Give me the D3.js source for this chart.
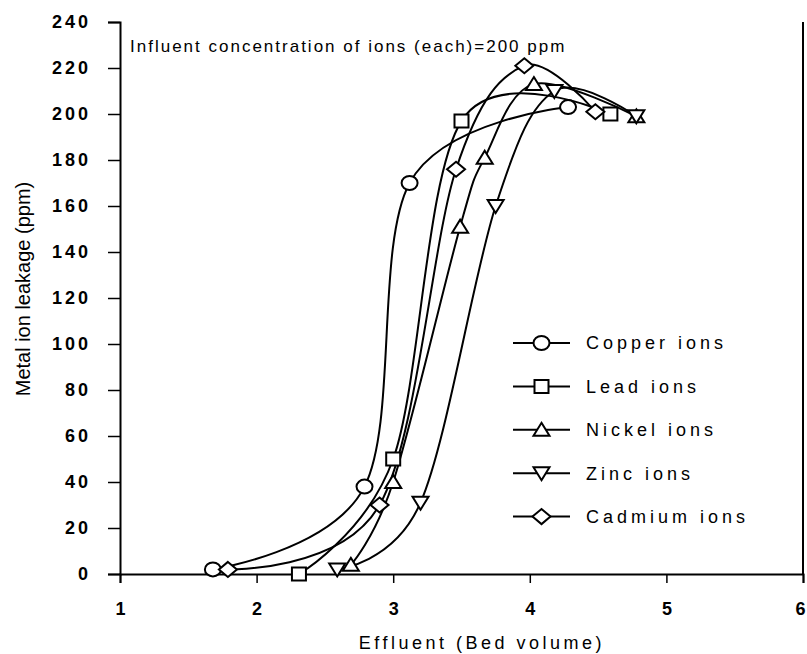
<!DOCTYPE html>
<html>
<head>
<meta charset="utf-8">
<script src="https://cdn.jsdelivr.net/npm/d3@7"></script>
<style>
  body { margin: 0; background: #fff; }
  svg { display: block; font-family: "Liberation Sans", Arial, sans-serif; }
</style>
</head>
<body>
<svg id="chart" width="807" height="654"></svg>
<script>
// data: [bed volume, ppm]
const copper  = [[1.68, 2], [2.79, 38], [3.12, 170], [4.28, 203]];
const lead    = [[2.31, 0], [3.0, 50], [3.5, 197], [4.59, 200]];
const nickel  = [[2.69, 4], [3.0, 40], [3.49, 151], [3.67, 181], [4.03, 213], [4.78, 199]];
const zinc    = [[2.59, 2], [3.2, 31], [3.75, 160], [4.18, 210], [4.78, 199]];
const cadmium = [[1.79, 2], [2.9, 30], [3.46, 176], [3.96, 221], [4.48, 201]];

const seriesNames = ["Copper ions", "Lead ions", "Nickel ions", "Zinc ions", "Cadmium ions"];
const seriesShapes = ["circle", "square", "triUp", "triDown", "diamond"];
const seriesData = [copper, lead, nickel, zinc, cadmium];

const xTicks = [1, 2, 3, 4, 5, 6];
const yTicks = [0, 20, 40, 60, 80, 100, 120, 140, 160, 180, 200, 220, 240];

const svg = d3.select("#chart");
const plotL = 120, plotR = 803, plotT = 22, plotB = 574;

const x = d3.scaleLinear().domain([1, 6]).range([plotL, plotR]);
const y = d3.scaleLinear().domain([0, 240]).range([plotB, plotT]);

// marker outlines, centred on 0,0
function shapePath(s) {
  switch (s) {
    case "circle": return "M-8,0a8,7 0 1,0 16,0a8,7 0 1,0 -16,0Z";
    case "square": return "M-7,-6.5H7V6.5H-7Z";
    case "triUp": return "M0,-7L8,6H-8Z";
    case "triDown": return "M0,7L8,-6H-8Z";
    case "diamond": return "M0,-7.5L9,0L0,7.5L-9,0Z";
  }
}

// axes
const yAxis = d3.axisLeft(y).tickValues(yTicks).tickSize(12).tickFormat(d => d);
const xAxis = d3.axisBottom(x).tickValues(xTicks).tickSize(9).tickFormat(d => d);

const gy = svg.append("g").attr("transform", `translate(${plotL},0)`).call(yAxis);
const gx = svg.append("g").attr("transform", `translate(0,${plotB})`).call(xAxis);

[gx, gy].forEach(g => {
  g.select(".domain").attr("stroke", "#000").attr("stroke-width", 2);
  g.selectAll(".tick line").attr("stroke", "#000").attr("stroke-width", 1.5);
  g.selectAll(".tick text")
    .attr("fill", "#000")
    .attr("font-size", 18)
    .attr("font-weight", "bold")
    .attr("font-family", "'Liberation Sans', Arial, sans-serif");
});
gy.selectAll(".tick text").attr("x", -32).attr("letter-spacing", 3).attr("dx", 3);
gx.selectAll(".tick text").attr("y", 28);
// last label sits on the window edge
gx.selectAll(".tick text").filter(d => d === 6).attr("dx", -3);

// right border
svg.append("line")
  .attr("x1", plotR).attr("x2", plotR)
  .attr("y1", plotT).attr("y2", plotB)
  .attr("stroke", "#000").attr("stroke-width", 2);

// smoothed lines
const line = d3.line()
  .x(d => x(d[0]))
  .y(d => y(d[1]))
  .curve(d3.curveCardinal.tension(0));

svg.append("g")
  .selectAll("path")
  .data(seriesData)
  .join("path")
  .attr("d", line)
  .attr("fill", "none")
  .attr("stroke", "#000")
  .attr("stroke-width", 2);

// markers
seriesData.forEach((pts, i) => {
  svg.append("g")
    .selectAll("path")
    .data(pts)
    .join("path")
    .attr("transform", d => `translate(${x(d[0])},${y(d[1])})`)
    .attr("d", shapePath(seriesShapes[i]))
    .attr("fill", "#fff")
    .attr("stroke", "#000")
    .attr("stroke-width", 2);
});

// legend
const legend = svg.append("g").attr("transform", "translate(513,343)");
const item = legend.selectAll("g")
  .data(seriesNames)
  .join("g")
  .attr("transform", (d, i) => `translate(0,${i * 43.4})`);
item.append("line")
  .attr("x1", 0).attr("x2", 57)
  .attr("stroke", "#000").attr("stroke-width", 2);
item.append("path")
  .attr("transform", "translate(28.5,0)")
  .attr("d", (d, i) => shapePath(seriesShapes[i]))
  .attr("fill", "#fff")
  .attr("stroke", "#000")
  .attr("stroke-width", 2);
item.append("text")
  .attr("x", 73)
  .attr("dy", "0.35em")
  .attr("font-size", 18)
  .attr("letter-spacing", 4)
  .text(d => d);

// annotation
svg.append("text")
  .attr("x", 130).attr("y", 52)
  .attr("font-size", 17)
  .attr("letter-spacing", 2)
  .text("Influent concentration of ions (each)=200 ppm");

// axis titles
svg.append("text")
  .attr("x", 482).attr("y", 649)
  .attr("text-anchor", "middle")
  .attr("font-size", 18)
  .attr("letter-spacing", 3.5)
  .text("Effluent (Bed volume)");

svg.append("text")
  .attr("transform", "translate(30,289) rotate(-90)")
  .attr("text-anchor", "middle")
  .attr("font-size", 20)
  .text("Metal ion leakage (ppm)");
</script>
</body>
</html>
